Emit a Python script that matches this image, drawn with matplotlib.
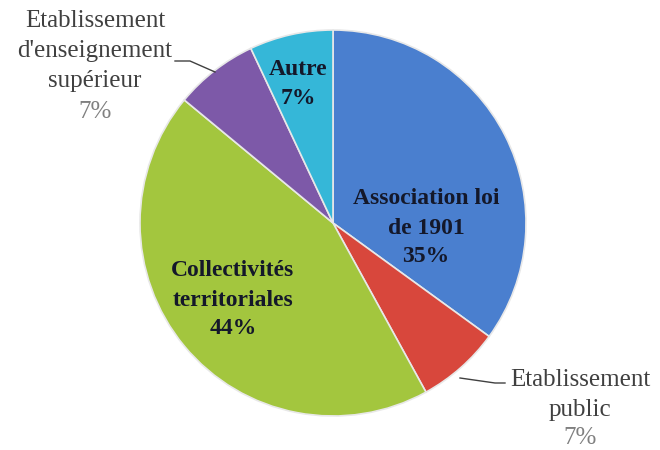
import matplotlib.pyplot as plt

labels = ["Association loi\nde 1901", "Etablissement\npublic", "Collectivités\nterritoriales",
          "Etablissement\nd'enseignement\nsupérieur", "Autre"]
values = [35, 7, 44, 7, 7]
colors = ["#4a7fcf", "#d8473c", "#a3c63e", "#7d59a8", "#35b7d8"]

fig = plt.figure(figsize=(6.6, 4.5), dpi=100)
ax = fig.add_axes([0, 0, 1, 1])

wedges, _ = ax.pie(values, colors=colors, startangle=90, counterclock=False,
                   center=(333, 227), radius=193, frame=True,
                   wedgeprops=dict(edgecolor="#e8e8e8", linewidth=1.2))
ax.set_xlim(0, 660)
ax.set_ylim(0, 450)
ax.set_aspect("equal")
ax.axis("off")

serif = ["Liberation Serif", "DejaVu Serif"]
pct = [f"{v}%" for v in values]

# labels inside the slices
inside = {0: (426, 222), 2: (233, 150), 4: (298, 366)}
for i, (x, y) in inside.items():
    ax.text(x, y, labels[i] + "\n" + pct[i], ha="center", va="center", fontsize=17,
            fontweight="bold", color="#14182a", family=serif, linespacing=1.5)

# labels outside with leader lines
ax.text(95, 399, labels[3], ha="center", va="center", fontsize=18, color="#404040",
        family=serif, linespacing=1.45)
ax.text(95, 338, pct[3], ha="center", va="center", fontsize=18, color="#808080", family=serif)
ax.plot([175, 190, 215], [389, 389, 378], color="#404040", lw=1)

ax.text(580, 55, labels[1], ha="center", va="center", fontsize=18, color="#404040",
        family=serif, linespacing=1.45)
ax.text(580, 12, pct[1], ha="center", va="center", fontsize=18, color="#808080", family=serif)
ax.plot([460, 495, 505], [72, 67, 67], color="#404040", lw=1)

fig.savefig("out.png", dpi=100)
